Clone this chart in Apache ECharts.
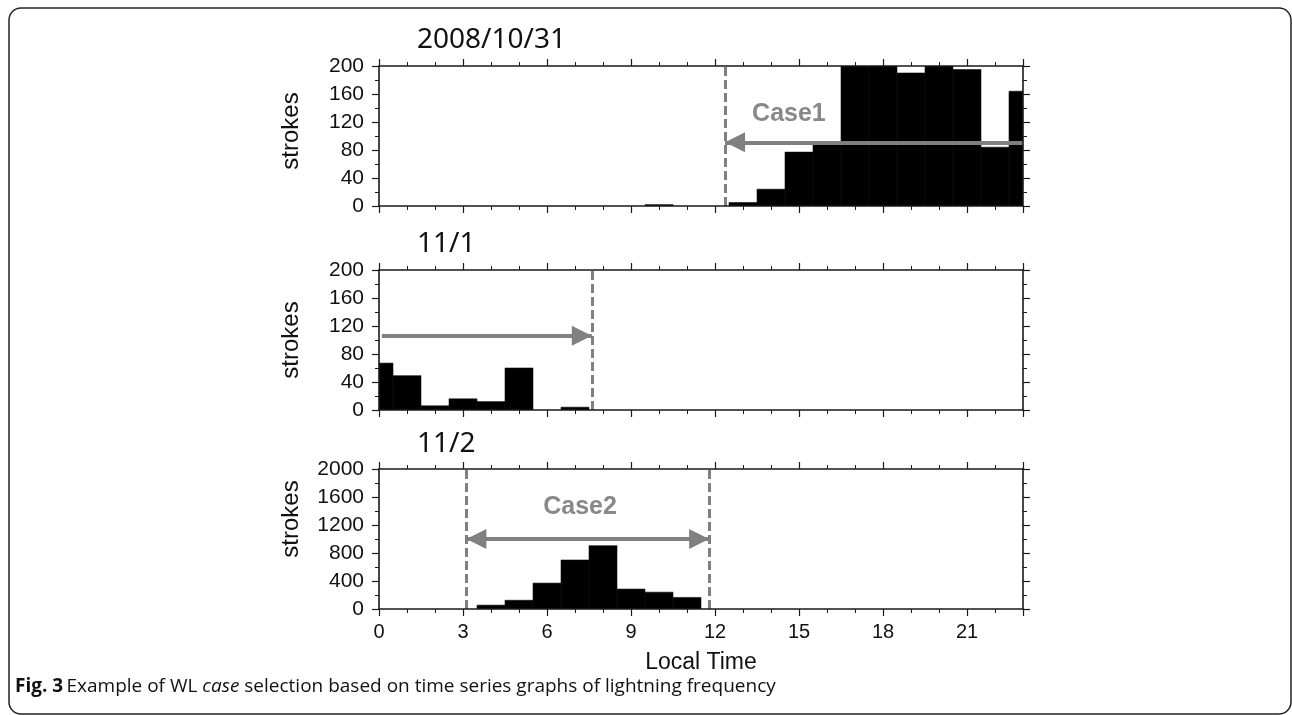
<!DOCTYPE html>
<html><head><meta charset="utf-8">
<script src="https://cdn.jsdelivr.net/npm/echarts@6/dist/echarts.min.js"></script>
<style>html,body{margin:0;padding:0;background:#fff}#c{width:1292px;height:715px}</style>
</head><body><div id="c"></div>
<script>
// ---- data ----
const hours = [0,1,2,3,4,5,6,7,8,9,10,11,12,13,14,15,16,17,18,19,20,21,22,23];
const strokesOct31 = [0,0,0,0,0,0,0,0,0,0,2,0,0,5,24,77,89,200,200,190,200,195,84,164];
const strokesNov1  = [67,49,6,16,12,60,0,4,0,0,0,0,0,0,0,0,0,0,0,0,0,0,0,0];
const strokesNov2  = [0,0,0,0,55,125,370,700,905,285,240,165,0,0,0,0,0,0,0,0,0,0,0,0];
const panelTitles = ['2008/10/31','11/1','11/2'];
const yMaxes = [200,200,2000];
const yIntervals = [40,40,400];
const xMin = 0, xMax = 23, xInterval = 3;
// case selection annotations (hour, strokes)
const cutLines = [[12.36],[7.6],[3.12,11.79]];
const caseArrows = [
  {from:[23,91], to:[12.36,91], heads:['none','triangle']},
  {from:[0.1,106], to:[7.6,106], heads:['none','triangle']},
  {from:[3.12,1000], to:[11.79,1000], heads:['triangle','triangle']}
];
const caseLabels = [
  [{x:14.64, y:131, text:'Case1'}],
  [],
  [{x:7.18, y:1450, text:'Case2'}]
];
const seriesData = [strokesOct31, strokesNov1, strokesNov2];

// ---- layout ----
const gridTops = [66, 270, 469];
const gridH = 140, gridL = 379, gridW = 644;
const nameOffsets = [-5, 0, -20];
const AX = '#1a1a1a', GRAY = '#808080';

const chart = echarts.init(document.getElementById('c'), null, {renderer:'canvas'});

function renderBar(params, api){
  const x = api.value(0), y = api.value(1);
  if (!y) return null;
  const p0 = api.coord([x - 0.5, y]);
  const p1 = api.coord([x + 0.5, 0]);
  const cs = params.coordSys;
  const r = echarts.graphic.clipRectByRect(
    {x:p0[0], y:p0[1], width:p1[0]-p0[0], height:p1[1]-p0[1]},
    {x:cs.x, y:cs.y, width:cs.width, height:cs.height});
  if (!r) return null;
  return {type:'rect', shape:r, style:{fill:'#000', stroke:'#111', lineWidth:0.6}};
}

const grids = [], xAxes = [], yAxes = [], series = [];
gridTops.forEach((top, i) => {
  grids.push({left:gridL, top:top, width:gridW, height:gridH, containLabel:false});
  const isLast = i === gridTops.length - 1;
  const xBase = {
    gridIndex:i, type:'value', min:xMin, max:xMax, interval:xInterval, z:10,
    axisLine:{show:true, onZero:false, lineStyle:{color:AX, width:1.6}},
    axisTick:{show:true, inside:false, length:7, lineStyle:{color:AX, width:1.2}},
    minorTick:{show:true, splitNumber:3, length:4, lineStyle:{color:AX, width:1}},
    splitLine:{show:false}, minorSplitLine:{show:false}
  };
  xAxes.push(Object.assign({}, xBase, {
    position:'bottom',
    axisLabel:{show:isLast, margin:13, fontSize:20, color:'#111', fontFamily:'Liberation Sans',
      formatter: v => (v % xInterval === 0 ? String(v) : '')},
    name: isLast ? 'Local Time' : '', nameLocation:'middle', nameGap:42,
    nameTextStyle:{fontSize:23, color:'#111', fontFamily:'Liberation Sans'}
  }));
  xAxes.push(Object.assign({}, xBase, {position:'top', axisLabel:{show:false}}));
  const yBase = {
    gridIndex:i, type:'value', min:0, max:yMaxes[i], interval:yIntervals[i], z:10,
    axisLine:{show:true, onZero:false, lineStyle:{color:AX, width:1.6}},
    axisTick:{show:true, inside:false, length:7, lineStyle:{color:AX, width:1.2}},
    minorTick:{show:true, splitNumber:2, length:4, lineStyle:{color:AX, width:1}},
    splitLine:{show:false}, minorSplitLine:{show:false}
  };
  yAxes.push(Object.assign({}, yBase, {
    position:'left',
    axisLabel:{margin:15, fontSize:21, color:'#111', fontFamily:'Liberation Sans',
      formatter: v => String(v)},
    name:'strokes', nameLocation:'middle', nameGap:76,
    nameTextStyle:{fontSize:24, color:'#111', fontFamily:'Liberation Sans',
      padding: nameOffsets[i] < 0 ? [0,0,0,-2*nameOffsets[i]] : [0,0,0,0]}
  }));
  yAxes.push(Object.assign({}, yBase, {position:'right', axisLabel:{show:false}}));

  const xi = i*2, yi = i*2;
  const mlData = cutLines[i].map(v => ({xAxis:v, symbol:'none',
    lineStyle:{type:[9,4], width:3, color:GRAY}}));
  const a = caseArrows[i];
  mlData.push([
    {coord:a.from, symbol:a.heads[0], symbolSize:[20,20], symbolOffset:[0,10]},
    {coord:a.to, symbol:a.heads[1], symbolSize:[20,20], symbolOffset:[0,10],
     lineStyle:{type:'solid', width:4, color:GRAY}}
  ]);
  series.push({
    type:'custom', xAxisIndex:xi, yAxisIndex:yi, clip:true, z:2,
    renderItem:renderBar,
    data: hours.map((h, k) => [h, seriesData[i][k]]),
    markLine:{silent:true, animation:false, symbol:['none','none'], precision:4,
      label:{show:false}, lineStyle:{color:GRAY}, emphasis:{disabled:true},
      data: mlData}
  });
  if (caseLabels[i].length){
    series.push({
      type:'scatter', xAxisIndex:xi, yAxisIndex:yi, z:5, symbolSize:0, silent:true,
      data: caseLabels[i].map(c => [c.x, c.y, c.text]),
      label:{show:true, position:'inside', formatter: p => p.value[2],
        fontSize:25, fontWeight:'bold', color:'#6a6a6a', fontFamily:'Liberation Sans'}
    });
  }
});

const titleGraphics = panelTitles.map((t, i) => ({
  type:'text', left:417, top:[26, 230, 430][i],
  style:{text:t, fontSize:28, fontFamily:'Noto Sans', fill:'#111'}
}));

chart.setOption({
  animation:false,
  grid:grids, xAxis:xAxes, yAxis:yAxes, series:series,
  graphic:[
    {type:'rect', shape:{x:9, y:8, width:1282, height:706, r:12},
     style:{fill:'none', stroke:'#222', lineWidth:1.5}, z:-1},
    ...titleGraphics,
    {type:'text', left:15, top:677,
     style:{rich:{b:{fontWeight:'bold', fontSize:19, fontFamily:'Open Sans', fill:'#111'},
                  n:{fontSize:19, fontFamily:'Open Sans', fill:'#111'},
                  i:{fontStyle:'italic', fontSize:19, fontFamily:'Open Sans', fill:'#111'}},
            text:'{b|Fig. 3} {n|Example of WL }{i|case}{n| selection based on time series graphs of lightning frequency}'}}
  ]
});
</script></body></html>
